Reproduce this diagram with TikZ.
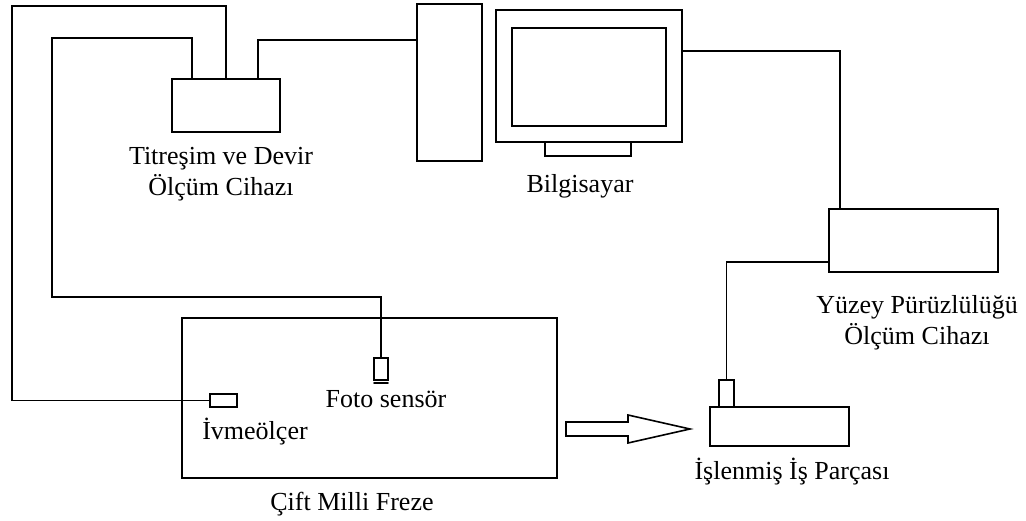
\documentclass[tikz,border=0pt]{standalone}
\usepackage{fontspec}
\setmainfont{Liberation Serif}
\usetikzlibrary{calc,positioning}

\begin{document}
\begin{tikzpicture}[x=1pt, y=-1pt, line cap=round, line join=miter, line width=1.9pt,
		font=\fontsize{26}{31}\selectfont]
	
	% Kutular ve etiketler için stiller
	\tikzset{
		box/.style={draw, rectangle, inner sep=0pt, outer sep=0pt},
		etiket/.style={inner sep=0pt, outer sep=0pt, align=center}
	}
	
	\useasboundingbox (0,0) rectangle (1026,521);
	
	% ----------------------------------------------------
	% ÖLÇÜM CİHAZI VE BİLGİSAYAR
	% ----------------------------------------------------
	\node[box, minimum width=108pt, minimum height=53pt] (olcum) at (226,105.5) {};
	\node[box, minimum width=65pt, minimum height=157pt] (kasa) at (449.5,82.5) {};
	\node[box, minimum width=186pt, minimum height=132pt] (monitor) at (589,76) {};
	\node[box, minimum width=154pt, minimum height=98pt] (ekran) at (589,77) {};
	\node[box, minimum width=86pt, minimum height=14pt] (ayak) at (588,149) {};
	
	\node[etiket, anchor=north] (olcumyazi) at (221,147) {Titreşim ve Devir\\Ölçüm Cihazı};
	\node[etiket, anchor=base] (bilgyazi) at (580,193) {Bilgisayar};
	
	% ----------------------------------------------------
	% YÜZEY PÜRÜZLÜLÜĞÜ CİHAZI VE İŞ PARÇASI
	% ----------------------------------------------------
	\node[box, minimum width=169pt, minimum height=63pt] (puruz) at (913.5,240.5) {};
	\node[box, minimum width=139pt, minimum height=39pt] (parca) at (779.5,426.5) {};
	\node[box, minimum width=15pt, minimum height=27pt] (uc) at (726.5,393.5) {};
	
	\node[etiket, anchor=north] (puruzyazi) at (917,295) {Yüzey Pürüzlülüğü\\Ölçüm Cihazı};
	\node[etiket, anchor=base] (parcayazi) at (792,479) {İşlenmiş İş Parçası};
	
	% ----------------------------------------------------
	% FREZE VE SENSÖRLER
	% ----------------------------------------------------
	\node[box, minimum width=375pt, minimum height=160pt] (freze) at (369.5,398) {};
	\node[box, minimum width=27pt, minimum height=13pt] (ivme) at (223.5,400.5) {};
	\node[box, minimum width=14pt, minimum height=22pt] (foto) at (381,369) {};
	\draw (foto.south west) ++(0,3) -- ++(14,0); % sensör alt çizgisi
	
	\node[etiket, anchor=base] (fotoyazi) at (386,407) {Foto sensör};
	\node[etiket, anchor=base] (ivmeyazi) at (255,439) {İvmeölçer};
	\node[etiket, anchor=base] (frezeyazi) at (352,510) {Çift Milli Freze};
	
	% ----------------------------------------------------
	% KABLOLAR
	% ----------------------------------------------------
	\draw (ivme.west) -| (12,6) -| (olcum.north); % ivmeölçer kablosu
	\draw (foto.north) |- (52,297) |- (192,38) -- ($(olcum.north west)+(20,0)$); % foto sensör kablosu
	\draw ($(olcum.north east)+(-22,0)$) |- ($(kasa.north west)+(0,36)$);
	\draw ($(monitor.north east)+(0,41)$) -| ($(puruz.north west)+(11,0)$);
	\draw ($(puruz.south west)+(0,-10)$) -| (uc.north);
	
	% Freze'den iş parçasına ok
	\draw[line width=1.6pt] (566,422) -- (628,422) -- (628,415) -- (690,429)
		-- (628,443) -- (628,436) -- (566,436) -- cycle;
	
\end{tikzpicture}
\end{document}
